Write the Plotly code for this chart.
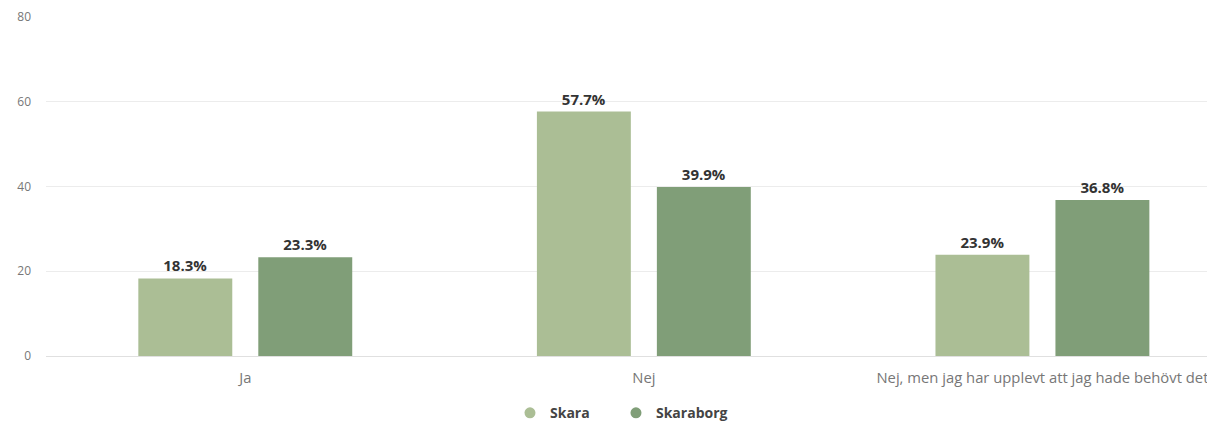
import plotly.graph_objects as go

categories = ["Ja", "Nej", "Nej, men jag har upplevt att jag hade behövt det"]
skara = [18.3, 57.7, 23.9]
skaraborg = [23.3, 39.9, 36.8]
series_names = ["Skara", "Skaraborg"]
colors = ["#abbe95", "#809e78"]
legend_ids = ["legend", "legend2"]

fig = go.Figure()
for name, vals, col, lg in zip(series_names, [skara, skaraborg], colors, legend_ids):
    fig.add_trace(go.Bar(
        x=categories, y=vals, name=name, marker=dict(color=col, line=dict(width=0)),
        texttemplate="%{y:.1f}%", textposition="outside", cliponaxis=False,
        textfont=dict(family="Open Sans", size=15, color="#333333", weight="bold"),
        showlegend=False, hoverinfo="skip",
    ))
    # legend entry with round marker
    fig.add_trace(go.Scatter(
        x=[None], y=[None], mode="markers", name=name, legend=lg,
        marker=dict(symbol="circle", size=11, color=col),
    ))

leg_style = dict(orientation="h", xref="container", xanchor="left", yref="container",
                 y=0.033, yanchor="middle", itemwidth=30,
                 font=dict(size=14, color="#444444", weight="bold"))

# page body has an 8px margin, so the figure is a bit smaller than the window
fig.update_layout(
    width=1207, height=419,
    template="plotly_white",
    barmode="group", bargap=0.398, bargroupgap=0.217,
    margin=dict(l=38, r=0, t=9, b=71, autoexpand=False),
    font=dict(family="Open Sans", size=11, color="#666666"),
    plot_bgcolor="#ffffff", paper_bgcolor="#ffffff",
    legend=dict(x=0.4159, **leg_style),
    legend2=dict(x=0.5037, **leg_style),
    xaxis=dict(range=[-0.5, 2.433], showgrid=False, zeroline=False, showline=False,
               ticks="", ticklabelstandoff=11, tickfont=dict(size=14.8, color="#777777")),
    yaxis=dict(range=[0, 80], tickvals=[0, 20, 40, 60, 80], showgrid=True, gridcolor="#ececec",
               gridwidth=1, zeroline=True, zerolinecolor="#e0e0e0", zerolinewidth=1,
               ticklabelstandoff=14, tickfont=dict(size=12, color="#777777")),
)

fig.write_html("out.html")
